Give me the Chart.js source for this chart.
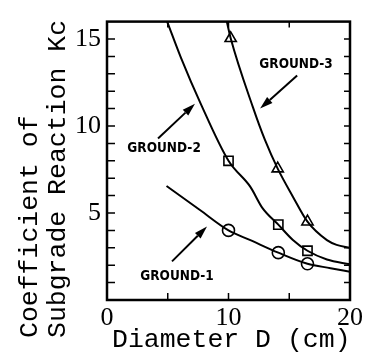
<!DOCTYPE html>
<html>
<head>
<meta charset="utf-8">
<script src="https://cdn.jsdelivr.net/npm/chart.js@4/dist/chart.umd.min.js"></script>
<style>
  html, body { margin: 0; padding: 0; background: #fff; }
  #wrap { width: 368px; height: 363px; }
</style>
</head>
<body>
<div id="wrap"><canvas id="c"></canvas></div>
<script>
// curves (D in cm, Kc)
var g1D = [4.9, 7.65, 10, 11.8, 14.1, 16.5, 18.4, 20];
var g1K = [6.55, 5.17, 4.0, 3.44, 2.72, 2.08, 1.83, 1.62];
var g2D = [4.95, 6.1, 7.7, 10, 11.8, 12.8, 14.1, 15.3, 16.5, 18.1, 20];
var g2K = [16, 13.9, 11.3, 8.0, 6.5, 5.28, 4.33, 3.45, 2.83, 2.33, 2.05];
var g3D = [9.86, 10.18, 12.0, 13.0, 14.05, 15.3, 16.5, 18.1, 18.9, 20];
var g3K = [16, 15.04, 11.1, 9.2, 7.55, 5.94, 4.5, 3.44, 3.17, 3.0];

// measured points (markers)
var m1D = [10, 14.1, 16.5];
var m1K = [4.0, 2.72, 2.08];
var m2D = [10, 14.1, 16.5];
var m2K = [8.0, 4.33, 2.83];
var m3D = [10.18, 14.05, 16.5];
var m3K = [15.04, 7.55, 4.5];

var xTickLabels = [0, 10, 20];
var yTickLabels = [5, 10, 15];
var yTitle = ['Coefficient of', 'Subgrade Reaction Kc'];
var xTitle = 'Diameter D (cm)';
var groundNames = ['GROUND-1', 'GROUND-2', 'GROUND-3'];

function pts(xs, ys) {
    return xs.map(function (x, i) { return { x: x, y: ys[i] }; });
}

function curve(xs, ys) {
    return {
        type: 'line',
        data: pts(xs, ys),
        borderColor: '#000',
        borderWidth: 2,
        pointRadius: 0,
        cubicInterpolationMode: 'monotone',
        fill: false
    };
}

function marks(xs, ys, style, r) {
    return {
        type: 'scatter',
        data: pts(xs, ys),
        borderColor: '#000',
        backgroundColor: 'rgba(0,0,0,0)',
        borderWidth: 1.6,
        pointStyle: style,
        pointRadius: r,
        pointHoverRadius: r
    };
}

// arrows and labels: [label x, label y, tail x, tail y, head x, head y] in data units
var notes = [
    [5.76, 1.33, 5.35, 2.22, 8.23, 4.22],
    [4.7, 8.72, 4.2, 9.28, 7.24, 11.28],
    [15.56, 13.55, 15.65, 12.9, 12.6, 11.0]
];

var decor = {
    id: 'decor',
    afterDatasetsDraw: function (chart) {
        var ctx = chart.ctx, a = chart.chartArea;
        var xs = chart.scales.x, ys = chart.scales.y;
        ctx.save();
        ctx.strokeStyle = '#000';
        ctx.fillStyle = '#000';
        // frame
        ctx.lineWidth = 2.5;
        ctx.strokeRect(a.left, a.top, a.right - a.left, a.bottom - a.top);
        // ticks
        ctx.lineWidth = 1.5;
        ctx.beginPath();
        for (var v = 1; v < 16; v++) {
            var py = ys.getPixelForValue(v);
            ctx.moveTo(a.left, py); ctx.lineTo(a.left + 8, py);
            ctx.moveTo(a.right, py); ctx.lineTo(a.right - 6, py);
        }
        [5, 10, 15].forEach(function (d) {
            var px = xs.getPixelForValue(d);
            ctx.moveTo(px, a.bottom); ctx.lineTo(px, a.bottom - 7);
            ctx.moveTo(px, a.top); ctx.lineTo(px, a.top + 6);
        });
        ctx.stroke();

        // arrows + labels
        ctx.font = 'bold 13.5px "DejaVu Sans Condensed", "DejaVu Sans", sans-serif';
        ctx.textAlign = 'center';
        ctx.textBaseline = 'middle';
        notes.forEach(function (n, i) {
            var lx = xs.getPixelForValue(n[0]), ly = ys.getPixelForValue(n[1]);
            var tx = xs.getPixelForValue(n[2]), ty = ys.getPixelForValue(n[3]);
            var hx = xs.getPixelForValue(n[4]), hy = ys.getPixelForValue(n[5]);
            ctx.fillText(groundNames[i], lx, ly);
            var ang = Math.atan2(hy - ty, hx - tx);
            var len = 13, wid = 4;
            var bx = hx - len * Math.cos(ang), by = hy - len * Math.sin(ang);
            ctx.lineWidth = 2;
            ctx.beginPath();
            ctx.moveTo(tx, ty); ctx.lineTo(bx, by);
            ctx.stroke();
            ctx.beginPath();
            ctx.moveTo(hx, hy);
            ctx.lineTo(bx + wid * Math.sin(ang), by - wid * Math.cos(ang));
            ctx.lineTo(bx - wid * Math.sin(ang), by + wid * Math.cos(ang));
            ctx.closePath();
            ctx.fill();
        });

        // axis titles
        ctx.font = '26.5px "Liberation Mono", "Courier New", monospace';
        ctx.textAlign = 'left';
        ctx.textBaseline = 'alphabetic';
        ctx.fillText(xTitle, 112, 347);
        ctx.save();
        ctx.translate(37, 338);
        ctx.rotate(-Math.PI / 2);
        ctx.fillText(yTitle[0], 0, 0);
        ctx.restore();
        ctx.save();
        ctx.translate(65, 338);
        ctx.rotate(-Math.PI / 2);
        ctx.fillText(yTitle[1], 0, 0);
        ctx.restore();
        ctx.restore();
    }
};

new Chart(document.getElementById('c'), {
    data: {
        datasets: [
            curve(g1D, g1K), curve(g2D, g2K), curve(g3D, g3K),
            marks(m1D, m1K, 'circle', 6),
            marks(m2D, m2K, 'rect', 6.5),
            marks(m3D, m3K, 'triangle', 6.5)
        ]
    },
    options: {
        responsive: true,
        maintainAspectRatio: false,
        animation: false,
        events: [],
        layout: { padding: { top: 11, right: 18, left: 0, bottom: 0 } },
        plugins: { legend: { display: false }, tooltip: { enabled: false } },
        scales: {
            x: {
                type: 'linear', min: 0, max: 20,
                grid: { display: false, drawTicks: false },
                border: { display: false },
                afterFit: function (s) { s.height = 63; },
                ticks: {
                    stepSize: 5, padding: 3, color: '#000',
                    maxRotation: 0, autoSkip: false,
                    font: { family: '"Liberation Serif", "Times New Roman", serif', size: 26 },
                    callback: function (v) { return xTickLabels.indexOf(v) >= 0 ? String(v) : ''; }
                }
            },
            y: {
                type: 'linear', min: 0, max: 16,
                grid: { display: false, drawTicks: false },
                border: { display: false },
                afterFit: function (s) { s.width = 107; },
                ticks: {
                    stepSize: 1, padding: 6, color: '#000', autoSkip: false,
                    font: { family: '"Liberation Serif", "Times New Roman", serif', size: 26 },
                    callback: function (v) { return yTickLabels.indexOf(v) >= 0 ? String(v) : ''; }
                }
            }
        }
    },
    plugins: [decor]
});
</script>
</body>
</html>
